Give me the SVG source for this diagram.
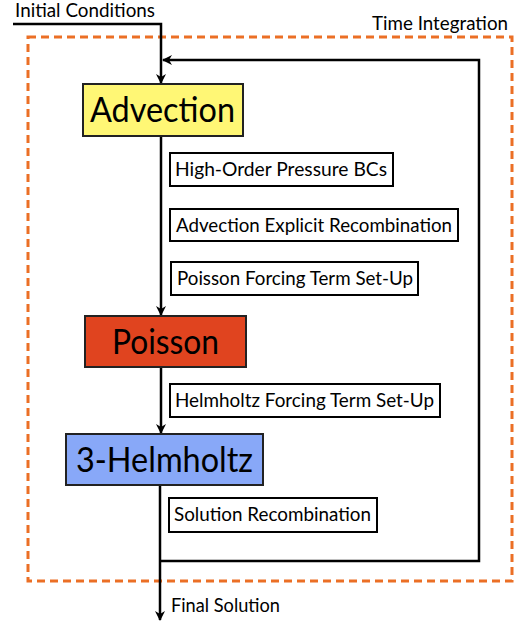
<svg xmlns="http://www.w3.org/2000/svg" width="531" height="623" viewBox="0 0 531 623">
<defs>
<marker id="arr" viewBox="0 0 10 10" refX="9" refY="5" markerWidth="10" markerHeight="10" markerUnits="userSpaceOnUse" orient="auto">
<path d="M0,0 L10,5 L0,10 L3,5 Z" fill="#000"/>
</marker>
</defs>
<style>
text{font-family:Lato,"Liberation Sans",sans-serif;fill:#000}
.big{font-size:34px}
.lbl{font-size:18.5px}
.step{fill:#fff;stroke:#000;stroke-width:2}
.node{stroke:#222;stroke-width:2}
.line{fill:none;stroke:#000;stroke-width:2.5}
</style>
<rect x="28" y="37" width="484" height="544" fill="none" stroke="#EB6F25" stroke-width="3" stroke-dasharray="8 5"/>
<text class="lbl" x="372" y="30" textLength="136" lengthAdjust="spacingAndGlyphs">Time Integration</text>
<g id="connectors">
<polyline class="line" points="13,24 161,24 161,83" marker-end="url(#arr)"/>
<polyline class="line" points="160,561 479,561 479,60 163,60" marker-end="url(#arr)"/>
<line class="line" x1="161" y1="136" x2="161" y2="315" marker-end="url(#arr)"/>
<line class="line" x1="161" y1="367" x2="161" y2="433" marker-end="url(#arr)"/>
<line class="line" x1="160" y1="485" x2="160" y2="620" marker-end="url(#arr)"/>
</g>
<text class="lbl" x="15" y="17" textLength="140" lengthAdjust="spacingAndGlyphs">Initial Conditions</text>
<text class="lbl" x="171" y="612" textLength="109" lengthAdjust="spacingAndGlyphs">Final Solution</text>
<g id="advection">
<rect class="node" x="83" y="84" width="160" height="52" fill="#FFF775"/>
<text class="big" x="90" y="122" textLength="145" lengthAdjust="spacingAndGlyphs">Advection</text>
</g>
<g id="poisson">
<rect class="node" x="85" y="316" width="161" height="51" fill="#E0441F"/>
<text class="big" x="112" y="354" textLength="107" lengthAdjust="spacingAndGlyphs">Poisson</text>
</g>
<g id="helmholtz">
<rect class="node" x="66" y="434" width="197" height="51" fill="#88A8F8"/>
<text class="big" x="76" y="472" textLength="177" lengthAdjust="spacingAndGlyphs">3-Helmholtz</text>
</g>
<g id="step1">
<rect class="step" x="170" y="153" width="223" height="33"/>
<text class="lbl" x="175" y="176" textLength="212" lengthAdjust="spacingAndGlyphs">High-Order Pressure BCs</text>
</g>
<g id="step2">
<rect class="step" x="170" y="209" width="288" height="32"/>
<text class="lbl" x="176" y="232" textLength="276" lengthAdjust="spacingAndGlyphs">Advection Explicit Recombination</text>
</g>
<g id="step3">
<rect class="step" x="171" y="262" width="247" height="33"/>
<text class="lbl" x="177" y="285" textLength="236" lengthAdjust="spacingAndGlyphs">Poisson Forcing Term Set-Up</text>
</g>
<g id="step4">
<rect class="step" x="170" y="384" width="270" height="33"/>
<text class="lbl" x="175" y="407" textLength="259" lengthAdjust="spacingAndGlyphs">Helmholtz Forcing Term Set-Up</text>
</g>
<g id="step5">
<rect class="step" x="169" y="498" width="208" height="34"/>
<text class="lbl" x="174" y="521" textLength="197" lengthAdjust="spacingAndGlyphs">Solution Recombination</text>
</g>
</svg>
